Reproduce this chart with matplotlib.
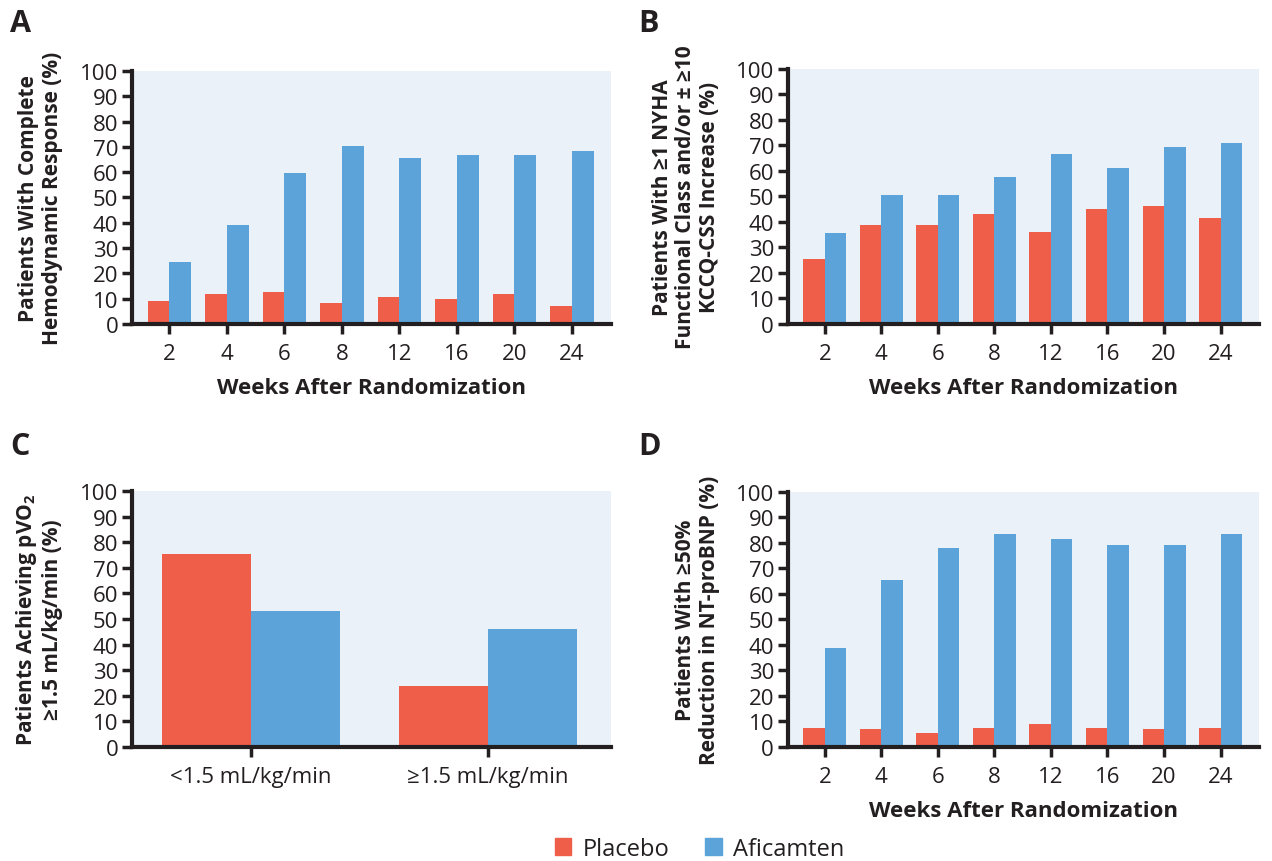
import numpy as np
import matplotlib
matplotlib.use("Agg")
import matplotlib.pyplot as plt
from matplotlib.patches import Patch

plt.rcParams['font.family'] = ['Open Sans', 'DejaVu Sans']
plt.rcParams['mathtext.default'] = 'regular'

# data
weeks = ['2', '4', '6', '8', '12', '16', '20', '24']
a_placebo = [9.1, 11.8, 12.6, 8.3, 10.7, 9.9, 11.8, 7.1]
a_aficamten = [24.5, 39.1, 59.6, 70.3, 65.5, 66.7, 66.7, 68.3]
b_placebo = [25.6, 39.0, 39.0, 43.3, 36.2, 44.9, 46.1, 41.7]
b_aficamten = [35.8, 50.4, 50.4, 57.5, 66.5, 61.0, 69.3, 70.9]
c_groups = ['<1.5 mL/kg/min', '\u22651.5 mL/kg/min']
c_placebo = [75.4, 23.8]
c_aficamten = [53.2, 46.1]
d_placebo = [7.4, 7.0, 5.4, 7.4, 8.9, 7.4, 7.0, 7.4]
d_aficamten = [38.9, 65.3, 77.9, 83.4, 81.5, 79.1, 79.1, 83.4]

RED = '#EF5E49'
BLUE = '#5BA3D9'
BG = '#EAF1F9'
INK = '#231F20'

fig = plt.figure(figsize=(12.72, 8.62), dpi=100)


def draw_panel(rect, cats, placebo, aficamten, ylabel, letter, letter_xy, width, xlim,
               xlabel=None):
    ax = fig.add_axes(rect)
    ax.set_facecolor(BG)
    x = np.arange(len(cats))
    ax.bar(x - width / 2, placebo, width, color=RED, linewidth=0)
    ax.bar(x + width / 2, aficamten, width, color=BLUE, linewidth=0)
    ax.set_xlim(*xlim)
    ax.set_ylim(0, 100)
    ax.set_yticks(range(0, 101, 10))
    ax.set_xticks(x)
    ax.set_xticklabels(cats)
    for s in ['top', 'right']:
        ax.spines[s].set_visible(False)
    for s in ['left', 'bottom']:
        ax.spines[s].set_linewidth(3)
        ax.spines[s].set_color(INK)
    ax.tick_params(axis='y', direction='out', length=7, width=2.5, color=INK,
                   labelsize=16, labelcolor=INK, pad=3)
    ax.tick_params(axis='x', direction='out', length=7, width=2.5, color=INK,
                   labelsize=16, labelcolor=INK, pad=7)
    ax.set_ylabel(ylabel, fontsize=15, fontweight='bold', color=INK, linespacing=1.15)
    ax.yaxis.set_label_coords(-0.145, 0.5)
    if xlabel:
        ax.set_xlabel(xlabel, fontsize=16, fontweight='bold', color=INK, labelpad=9)
    fig.text(letter_xy[0], letter_xy[1], letter, fontsize=22, fontweight='bold',
             color=INK, va='center', ha='left')
    return ax


xl_weeks = (-0.65, 7.68)
draw_panel([0.1038, 0.6230, 0.3766, 0.2935], weeks, a_placebo, a_aficamten,
           'Patients With Complete\nHemodynamic Response (%)', 'A', (0.008, 0.972),
           0.38, xl_weeks, 'Weeks After Randomization')
draw_panel([0.6195, 0.6230, 0.3703, 0.2958], weeks, b_placebo, b_aficamten,
           'Patients With \u22651 NYHA\nFunctional Class and/or \u00b1 \u226510\nKCCQ-CSS Increase (%)',
           'B', (0.502, 0.972), 0.38, xl_weeks, 'Weeks After Randomization')
draw_panel([0.1038, 0.1323, 0.3766, 0.2970], c_groups, c_placebo, c_aficamten,
           'Patients Achieving pVO$_2$\n\u22651.5 mL/kg/min (%)', 'C', (0.008, 0.481),
           0.375, (-0.5, 1.52))
draw_panel([0.6195, 0.1323, 0.3703, 0.2958], weeks, d_placebo, d_aficamten,
           'Patients With \u226550%\nReduction in NT-proBNP (%)', 'D', (0.502, 0.481),
           0.38, xl_weeks, 'Weeks After Randomization')

handles = [Patch(color=RED, label='Placebo'), Patch(color=BLUE, label='Aficamten')]
fig.legend(handles=handles, loc='center', bbox_to_anchor=(0.55, 0.014), ncol=2,
           frameon=False, fontsize=17, handlelength=0.7, handleheight=0.7,
           handletextpad=0.5, columnspacing=1.5, labelcolor=INK)

fig.savefig('out.png', dpi=100, facecolor='white')
